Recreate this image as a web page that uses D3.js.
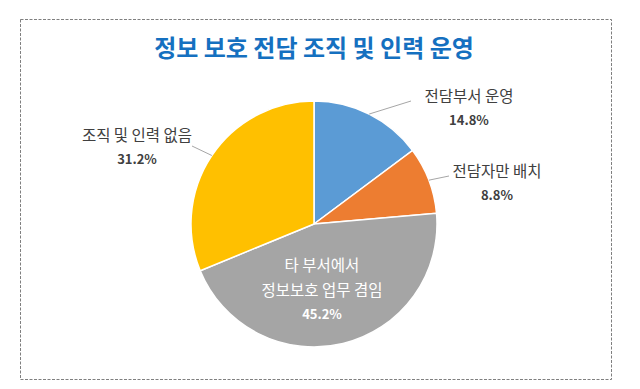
<!DOCTYPE html>
<html>
<head>
<meta charset="utf-8">
<script src="https://cdn.jsdelivr.net/npm/d3@7"></script>
<style>
  body { margin: 0; background: #fff; }
  svg text { font-family: "Noto Sans CJK KR", "Noto Sans", sans-serif; }
</style>
</head>
<body>
<div id="chart"></div>
<script>
// chart data
var title = '정보 보호 전담 조직 및 인력 운영';
var categories = ['전담부서 운영', '전담자만 배치', '타 부서에서 정보보호 업무 겸임', '조직 및 인력 없음'];
var label_lines = [['전담부서 운영'], ['전담자만 배치'], ['타 부서에서', '정보보호 업무 겸임'], ['조직 및 인력 없음']];
var values = [14.8, 8.8, 45.2, 31.2];
var colors = ['#5b9bd5', '#ed7d31', '#a5a5a5', '#ffc000'];

// label placement relative to the pie centre (label block, leader line end)
var label_layout = [
    {tx: 155, ty: -128, lx: 97, ly: -123, inside: false},
    {tx: 183, ty: -53, lx: 135, ly: -48, inside: false},
    {tx: 8, ty: 41, inside: true},
    {tx: -177, ty: -89, lx: -122, ly: -78, inside: false}
];

var width = 640;
var height = 389;
var cx = 314;
var cy = 224;
var radius = 123;

var svg = d3.select('#chart')
  .append('svg')
    .attr('width', width)
    .attr('height', height);

// dashed frame
svg.append('rect')
    .attr('x', 20.5)
    .attr('y', 19.5)
    .attr('width', 591)
    .attr('height', 360)
    .attr('fill', 'none')
    .attr('stroke', '#7f7f7f')
    .attr('stroke-width', 1)
    .attr('stroke-dasharray', '3,1.5');

svg.append('text')
    .text(title)
    .attr('x', cx)
    .attr('y', 57)
    .attr('text-anchor', 'middle')
    .attr('font-size', 24)
    .attr('font-weight', 'bold')
    .attr('fill', '#1570c0');

var pie = d3.pie().sort(null).value(function(d) { return d; });
var arcs = pie(values);
var arc = d3.arc().innerRadius(0).outerRadius(radius);

var g = svg.append('g').attr('transform', 'translate(' + cx + ',' + cy + ')');

g.selectAll('path')
    .data(arcs)
  .enter()
    .append('path')
    .attr('d', arc)
    .attr('fill', function(d, i) { return colors[i]; })
    .attr('stroke', '#fff')
    .attr('stroke-width', 1.5);

// leader lines
g.selectAll('line.leader')
    .data(arcs.filter(function(d, i) { return !label_layout[i].inside; }))
  .enter()
    .append('line')
    .attr('class', 'leader')
    .attr('x1', function(d) { return Math.sin((d.startAngle + d.endAngle) / 2) * radius; })
    .attr('y1', function(d) { return -Math.cos((d.startAngle + d.endAngle) / 2) * radius; })
    .attr('x2', function(d) { return label_layout[d.index].lx; })
    .attr('y2', function(d) { return label_layout[d.index].ly; })
    .attr('stroke', '#a6a6a6')
    .attr('stroke-width', 1);

// labels
arcs.forEach(function(d, i) {
    var lay = label_layout[i];
    var fill = lay.inside ? '#ffffff' : '#404040';
    var lines = label_lines[i];
    var t = g.append('text')
        .attr('text-anchor', 'middle')
        .attr('fill', fill);
    lines.forEach(function(s, k) {
        t.append('tspan')
            .attr('x', lay.tx)
            .attr('y', lay.ty + k * 25 + 6)
            .attr('font-size', 15.5)
            .text(s);
    });
    t.append('tspan')
        .attr('x', lay.tx)
        .attr('y', lay.ty + (lines.length - 1) * 25 + 29)
        .attr('font-size', 13)
        .attr('font-weight', 'bold')
        .text(values[i].toFixed(1) + '%');
});
</script>
</body>
</html>
